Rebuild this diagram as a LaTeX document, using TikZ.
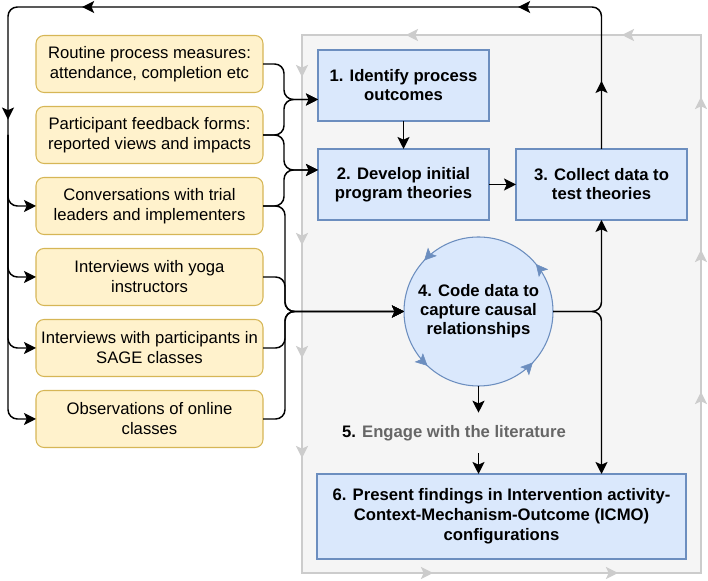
\documentclass[tikz,border=0pt]{standalone}
\usepackage{fontspec}
\setmainfont{Liberation Sans}
\usetikzlibrary{positioning,arrows.meta,decorations.markings}
\definecolor{yfill}{HTML}{FFF2CC}
\definecolor{ydraw}{HTML}{D6B656}
\definecolor{bfill}{HTML}{DAE8FC}
\definecolor{bdraw}{HTML}{6C8EBF}
\definecolor{gfill}{HTML}{F5F5F5}
\definecolor{gdraw}{HTML}{CCCCCC}
\definecolor{tgray}{HTML}{666666}

\begin{document}
\begin{tikzpicture}[x=0.75pt,y=0.75pt,font=\fontsize{12.5}{15}\selectfont,
	>={Stealth[length=9pt,width=9pt,inset=2pt]},
	ybox/.style={draw=ydraw,fill=yfill,line width=0.8pt,rounded corners=6pt,minimum width=170.25pt,minimum height=42.75pt,inner sep=0pt,outer sep=0pt,align=center},
	bbox/.style={draw=bdraw,fill=bfill,line width=0.8pt,minimum width=128.25pt,minimum height=53.25pt,inner sep=0pt,outer sep=0pt,align=center,font=\fontsize{12.5}{14.25}\selectfont\bfseries},
	conn/.style={line width=1.1pt,rounded corners=7pt,->},
	]
		\useasboundingbox (0,0) rectangle (708,581);

		\draw[draw=gdraw,fill=gfill,line width=1.8pt,postaction={decorate},decoration={markings,
			mark=at position 31.5pt with {\arrow{>}},
			mark=at position 157.5pt with {\arrow{>}},
			mark=at position 242.25pt with {\arrow{>}},
			mark=at position 317.25pt with {\arrow{>}},
			mark=at position 501.75pt with {\arrow{>}},
			mark=at position 640.5pt with {\arrow{>}},
			mark=at position 838.5pt with {\arrow{>}},
			mark=at position 945pt with {\arrow{>}},
			mark=at position 1059.75pt with {\arrow{>}},
			mark=at position 1165.5pt with {\arrow{>}},
			mark=at position 1327.5pt with {\arrow{>}}}]
			(302,546) -- (302,8) -- (701,8) -- (701,546) -- cycle;

		\node[ybox] (y1) at (149.5,517) {Routine process measures:\\attendance, completion etc};
		\node[ybox] (y2) [below=10.5pt of y1] {Participant feedback forms:\\reported views and impacts};
		\node[ybox] (y3) [below=10.5pt of y2] {Conversations with trial\\leaders and implementers};
		\node[ybox] (y4) [below=10.5pt of y3] {Interviews with yoga\\instructors};
		\node[ybox] (y5) [below=10.5pt of y4] {Interviews with participants in\\SAGE classes};
		\node[ybox] (y6) [below=10.5pt of y5] {Observations of online\\classes};

		\node[bbox] (b1) at (403.5,495.5) {1. Identify process\\outcomes};
		\node[bbox] (b2) [below=21pt of b1] {2. Develop initial\\program theories};
		\node[bbox] (b3) [right=20.25pt of b2] {3. Collect data to\\test theories};
		\node[bbox,circle,minimum width=111.75pt,minimum height=111.75pt] (c4) at (478.5,269.5) {4. Code data to\\capture causal\\relationships};
		\node[bbox,minimum width=276.75pt,minimum height=63.75pt,font=\fontsize{12.5}{15}\selectfont\bfseries] (b6) at (501.5,64.5) {6. Present findings in Intervention activity-\\Context-Mechanism-Outcome (ICMO)\\configurations};
		\node[font=\fontsize{12.5}{15}\selectfont\bfseries,text=tgray,minimum height=30pt,inner sep=0pt] (t5) at (454,148) {\textcolor{black}{5.} Engage with the literature};

		\path[decoration={markings,
			mark=at position 0.11 with {\arrow{Stealth[length=9pt,width=9pt,inset=2pt,color=bdraw]}},
			mark=at position 0.38 with {\arrow{Stealth[length=9pt,width=9pt,inset=2pt,color=bdraw]}},
			mark=at position 0.63 with {\arrow{Stealth[length=9pt,width=9pt,inset=2pt,color=bdraw]}},
			mark=at position 0.88 with {\arrow{Stealth[length=9pt,width=9pt,inset=2pt,color=bdraw]}}},decorate] (c4.center) circle[radius=55.875pt];

		\coordinate (j1) at (284,481.5);
		\coordinate (j2) at (284,411);
		\coordinate (j3) at (285,269.5);
		\coordinate (fb) at (8,574);

		\draw[conn] (y1.east) -| (j1) -- (j1 -| b1.west);
		\draw[conn] (y2.east) -| (j1) -- (j1 -| b1.west);
		\draw[conn] (y2.east) -| (j2) -- (j2 -| b2.west);
		\draw[conn] (y3.east) -| (j2) -- (j2 -| b2.west);
		\foreach \n in {y3,y4,y5,y6}
			\draw[conn] (\n.east) -| (j3) -- (c4.west);

		\draw[conn] (b1) -- (b2);
		\draw[conn] (b2) -- (b3);
		\draw[conn] (c4.east) -| (b3.south);
		\draw[conn] (c4.east) -| (b6.north -| b3.south);
		\draw[conn] (c4.south) -- (c4.south |- t5.north);
		\draw[conn] (t5.south -| c4.south) -- (c4.south |- b6.north);

		\draw[conn,postaction={decorate},decoration={markings,
			mark=at position 51pt with {\arrow{>}},
			mark=at position 166pt with {\arrow{>}},
			mark=at position 493pt with {\arrow{>}},
			mark=at position 630pt with {\arrow{>}}}]
			(b3.north) |- (fb) |- (y6.west);
		\foreach \n in {y3,y4,y5}
			\draw[conn] (fb |- y2.west) |- (\n.west);
\end{tikzpicture}
\end{document}
